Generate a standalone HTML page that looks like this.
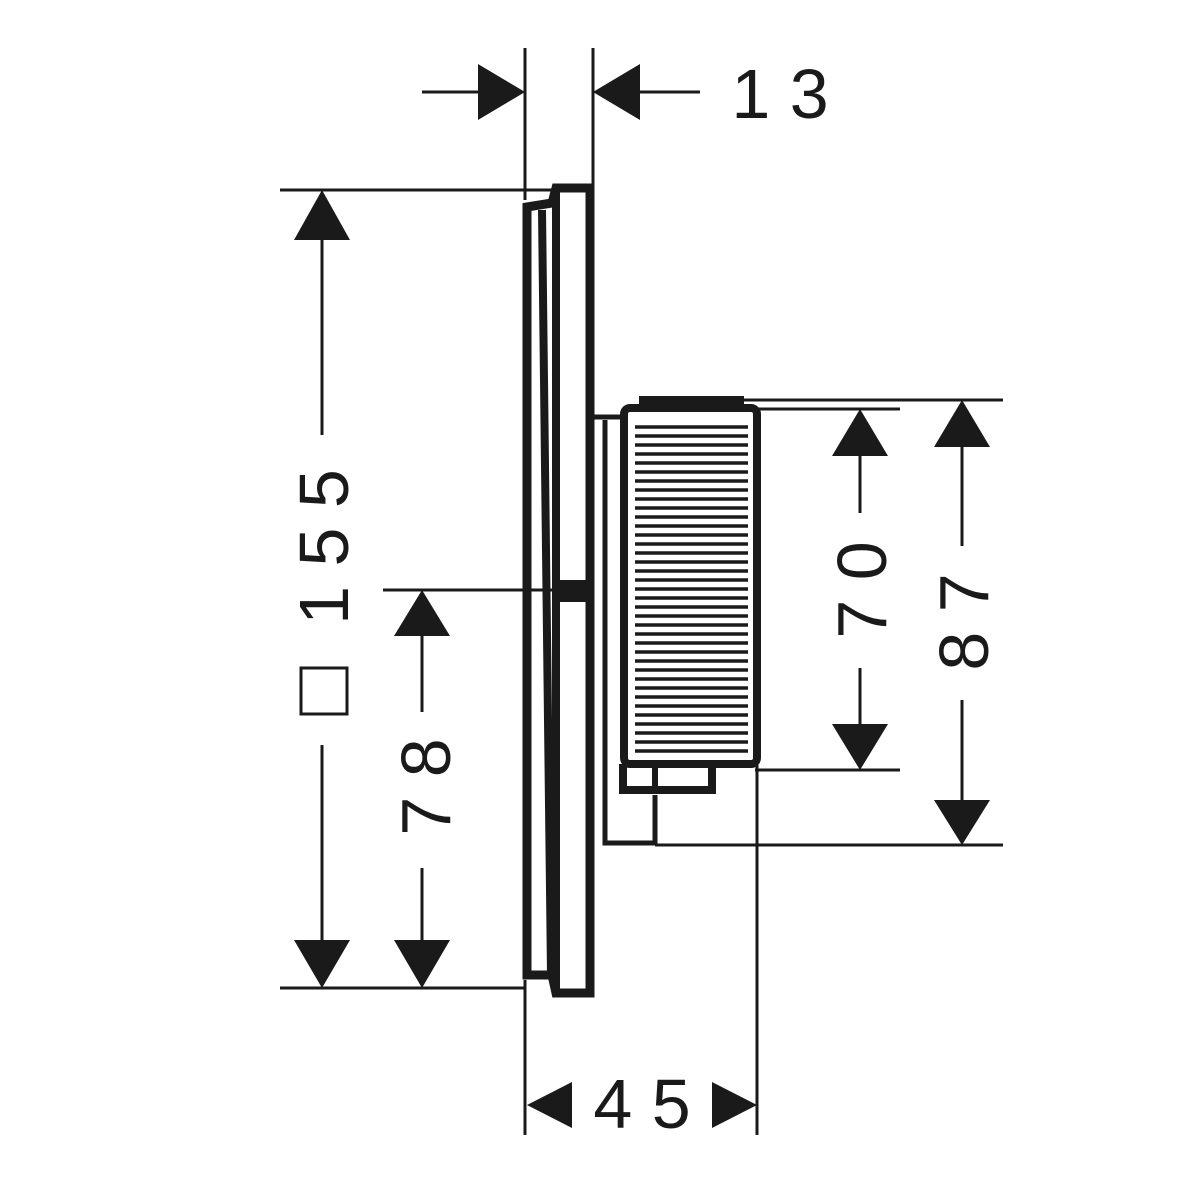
<!DOCTYPE html>
<html><head><meta charset="utf-8"><style>html,body{margin:0;padding:0;background:#fff}svg{display:block}</style></head>
<body>
<svg width="1200" height="1200" viewBox="0 0 1200 1200" xmlns="http://www.w3.org/2000/svg">
<g stroke="#1a1a1a" fill="none" stroke-width="3">
<!-- extension lines -->
<line x1="525" y1="48" x2="525" y2="200"/>
<line x1="593" y1="48" x2="593" y2="190"/>
<line x1="280" y1="190" x2="560" y2="190"/>
<line x1="280" y1="988" x2="525" y2="988"/>
<line x1="383" y1="590" x2="552" y2="590"/>
<line x1="740" y1="409" x2="900" y2="409"/>
<line x1="740" y1="400" x2="1003" y2="400"/>
<line x1="755" y1="770" x2="900" y2="770"/>
<line x1="655" y1="845" x2="1003" y2="845"/>
<line x1="525" y1="980" x2="525" y2="1135"/>
<line x1="757" y1="765" x2="757" y2="1135"/>
<!-- dim lines -->
<line x1="422" y1="92" x2="480" y2="92"/>
<line x1="640" y1="92" x2="700" y2="92"/>
<line x1="322" y1="235" x2="322" y2="435"/>
<line x1="322" y1="745" x2="322" y2="945"/>
<line x1="422" y1="630" x2="422" y2="712"/>
<line x1="422" y1="868" x2="422" y2="945"/>
<line x1="860" y1="450" x2="860" y2="513"/>
<line x1="860" y1="668" x2="860" y2="730"/>
<line x1="962" y1="440" x2="962" y2="546"/>
<line x1="962" y1="700" x2="962" y2="805"/>
</g>
<g fill="#1a1a1a">
<polygon points="525,92 478,64 478,120"/>
<polygon points="593,92 640,64 640,120"/>
<polygon points="322,190 294,240 350,240"/>
<polygon points="322,988 294,940 350,940"/>
<polygon points="422,590 394,636 450,636"/>
<polygon points="422,988 394,940 450,940"/>
<polygon points="860,409 832,456 888,456"/>
<polygon points="860,770 832,724 888,724"/>
<polygon points="962,400 934,447 990,447"/>
<polygon points="962,845 934,800 990,800"/>
<polygon points="527,1105 572,1082 572,1128"/>
<polygon points="757,1105 712,1082 712,1128"/>
</g>
<!-- wall plate -->
<g stroke="#1a1a1a" fill="none" stroke-width="9">
<path d="M527,975 L527,207 L552,203 L556,188 L590,188 L590,993 L556,993 L552,975 Z"/>
<line x1="542" y1="210" x2="551" y2="975" stroke-width="8"/>
<line x1="556" y1="190" x2="556" y2="993" stroke-width="8"/>
</g>
<rect x="556" y="580" width="36" height="22" fill="#1a1a1a"/>
<!-- backplate -->
<g stroke="#1a1a1a" fill="none" stroke-width="5">
<path d="M593,417 L623,417"/>
<path d="M605,420 L605,843 L655,843 L655,795"/>
</g>
<!-- knob -->
<g stroke="#1a1a1a" fill="none" stroke-width="8">
<rect x="624" y="408" width="133" height="356" rx="6"/>
<path d="M643,408 L643,400 L740,400 L740,408"/>
<path d="M623,764 L623,790 L712,790 L712,764"/>
<line x1="655" y1="768" x2="655" y2="792" stroke-width="6"/>
</g>
<g stroke="#1a1a1a" stroke-width="3.5">
<line x1="635" y1="427" x2="748" y2="427"/><line x1="635" y1="436" x2="748" y2="436"/><line x1="635" y1="445" x2="748" y2="445"/><line x1="635" y1="454" x2="748" y2="454"/><line x1="635" y1="463" x2="748" y2="463"/><line x1="635" y1="472" x2="748" y2="472"/><line x1="635" y1="481" x2="748" y2="481"/><line x1="635" y1="490" x2="748" y2="490"/><line x1="635" y1="499" x2="748" y2="499"/><line x1="635" y1="508" x2="748" y2="508"/><line x1="635" y1="517" x2="748" y2="517"/><line x1="635" y1="526" x2="748" y2="526"/><line x1="635" y1="535" x2="748" y2="535"/><line x1="635" y1="544" x2="748" y2="544"/><line x1="635" y1="553" x2="748" y2="553"/><line x1="635" y1="562" x2="748" y2="562"/><line x1="635" y1="571" x2="748" y2="571"/><line x1="635" y1="580" x2="748" y2="580"/><line x1="635" y1="589" x2="748" y2="589"/><line x1="635" y1="598" x2="748" y2="598"/><line x1="635" y1="607" x2="748" y2="607"/><line x1="635" y1="616" x2="748" y2="616"/><line x1="635" y1="625" x2="748" y2="625"/><line x1="635" y1="634" x2="748" y2="634"/><line x1="635" y1="643" x2="748" y2="643"/><line x1="635" y1="652" x2="748" y2="652"/><line x1="635" y1="661" x2="748" y2="661"/><line x1="635" y1="670" x2="748" y2="670"/><line x1="635" y1="679" x2="748" y2="679"/><line x1="635" y1="688" x2="748" y2="688"/><line x1="635" y1="697" x2="748" y2="697"/><line x1="635" y1="706" x2="748" y2="706"/><line x1="635" y1="715" x2="748" y2="715"/><line x1="635" y1="724" x2="748" y2="724"/><line x1="635" y1="733" x2="748" y2="733"/><line x1="635" y1="742" x2="748" y2="742"/><line x1="635" y1="751" x2="748" y2="751"/>
</g>
<!-- labels -->
<g font-family="Liberation Sans, sans-serif" font-size="70" fill="#1a1a1a" text-anchor="middle">
<text x="780" y="118">1 3</text>
<text x="642" y="1128">4 5</text>
<text transform="translate(348,547) rotate(-90)">1 5 5</text>
<text transform="translate(450,787) rotate(-90)">7 8</text>
<text transform="translate(886,590) rotate(-90)">7 0</text>
<text transform="translate(988,622) rotate(-90)">8 7</text>
</g>
<rect x="301" y="668" width="46" height="46" fill="none" stroke="#1a1a1a" stroke-width="3"/>
</svg>
</body></html>
